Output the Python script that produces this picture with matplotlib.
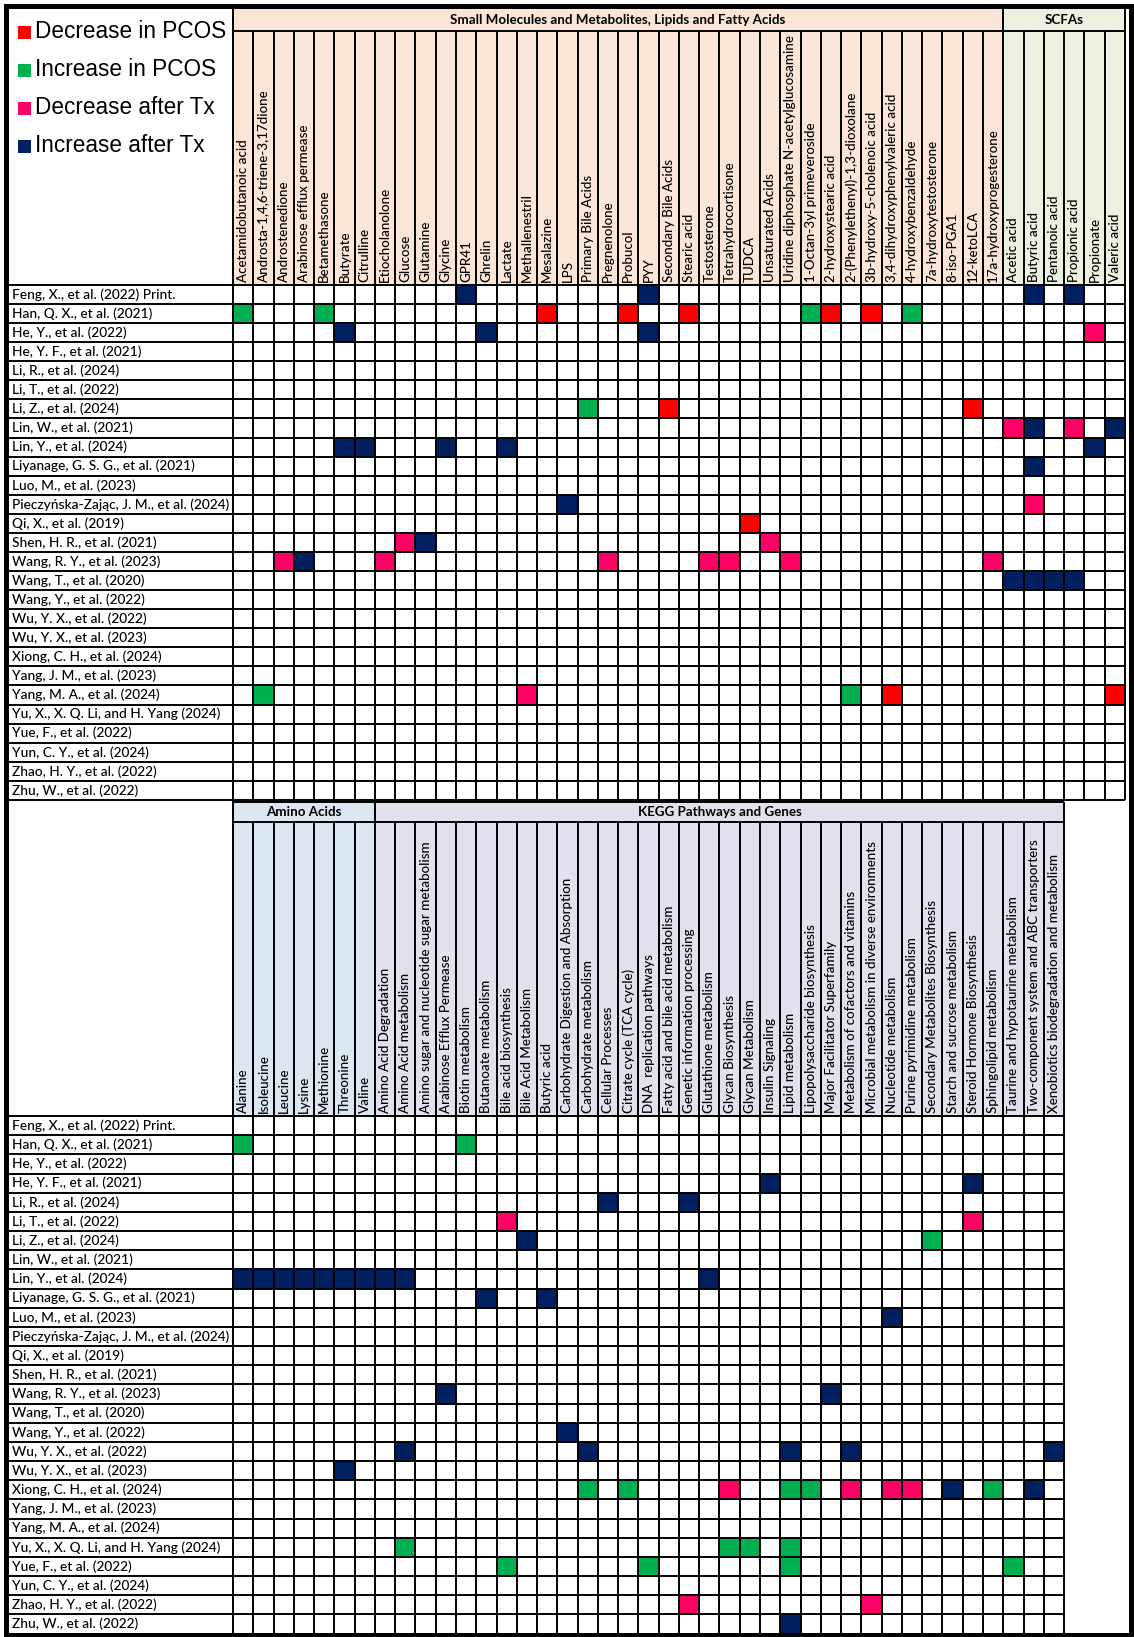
import matplotlib
matplotlib.use("Agg")
import matplotlib.pyplot as plt
from matplotlib.patches import Rectangle

plt.rcParams['font.family'] = ['Lato', 'DejaVu Sans']

studies = [
    "Feng, X., et al. (2022) Print.", "Han, Q. X., et al. (2021)", "He, Y., et al. (2022)",
    "He, Y. F., et al. (2021)", "Li, R., et al. (2024)", "Li, T., et al. (2022)",
    "Li, Z., et al. (2024)", "Lin, W., et al. (2021)", "Lin, Y., et al. (2024)",
    "Liyanage, G. S. G., et al. (2021)", "Luo, M., et al. (2023)",
    "Pieczyńska-Zając, J. M., et al. (2024)", "Qi, X., et al. (2019)", "Shen, H. R., et al. (2021)",
    "Wang, R. Y., et al. (2023)", "Wang, T., et al. (2020)", "Wang, Y., et al. (2022)",
    "Wu, Y. X., et al. (2022)", "Wu, Y. X., et al. (2023)", "Xiong, C. H., et al. (2024)",
    "Yang, J. M., et al. (2023)", "Yang, M. A., et al. (2024)", "Yu, X., X. Q. Li, and H. Yang (2024)",
    "Yue, F., et al. (2022)", "Yun, C. Y., et al. (2024)", "Zhao, H. Y., et al. (2022)",
    "Zhu, W., et al. (2022)",
]

small_molecules = [
    "Acetamidobutanoic acid", "Androsta-1,4,6-triene-3,17dione", "Androstenedione",
    "Arabinose efflux permease", "Betamethasone", "Butyrate", "Citrulline", "Etiocholanolone",
    "Glucose", "Glutamine", "Glycine", "GPR41", "Ghrelin", "Lactate", "Methallenestril",
    "Mesalazine", "LPS", "Primary Bile Acids", "Pregnenolone", "Probucol", "PYY",
    "Secondary Bile Acids", "Stearic acid", "Testosterone", "Tetrahydrocortisone", "TUDCA",
    "Unsaturated Acids", "Uridine diphosphate N-acetylglucosamine", "1-Octan-3yl primeveroside",
    "2-hydroxystearic acid", "2-(Phenylethenyl)-1,3-dioxolane", "3b-hydroxy-5-cholenoic acid",
    "3,4-dihydroxyphenylvaleric acid", "4-hydroxybenzaldehyde", "7a-hydroxytestosterone",
    "8-iso-PGA1", "12-ketoLCA", "17a-hydroxyprogesterone",
]
scfas = ["Acetic acid", "Butyric acid", "Pentanoic acid", "Propionic acid", "Propionate", "Valeric acid"]

amino_acids = ["Alanine", "Isoleucine", "Leucine", "Lysine", "Methionine", "Threonine", "Valine"]
kegg = [
    "Amino Acid Degradation", "Amino Acid metabolism", "Amino sugar and nucleotide sugar metabolism",
    "Arabinose Efflux Permease", "Biotin metabolism", "Butanoate metabolism", "Bile acid biosynthesis",
    "Bile Acid Metabolism", "Butyric acid", "Carbohydrate Digestion and Absorption",
    "Carbohydrate metabolism", "Cellular Processes", "Citrate cycle (TCA cycle)",
    "DNA  replication pathways", "Fatty acid and bile acid metabolism", "Genetic information processing",
    "Glutathione metabolism", "Glycan Biosynthesis", "Glycan Metabolism", "Insulin Signaling",
    "Lipid metabolism", "Lipopolysaccharide biosynthesis", "Major Facilitator Superfamily",
    "Metabolism of cofactors and vitamins", "Microbial metabolism in diverse environments",
    "Nucleotide metabolism", "Purine pyrimidine metabolism", "Secondary Metabolites Biosynthesis",
    "Starch and sucrose metabolism", "Steroid Hormone Biosynthesis", "Sphingolipid metabolism",
    "Taurine and hypotaurine metabolism", "Two-component system and ABC transporters",
    "Xenobiotics biodegradation and metabolism",
]

legend_labels = ["Decrease in PCOS", "Increase in PCOS", "Decrease after Tx", "Increase after Tx"]
legend_colors = ["#FF0000", "#00B050", "#FF0066", "#002060"]
DP, IP, DT, IT = 0, 1, 2, 3

top_marks = [
    ("Feng, X., et al. (2022) Print.", "GPR41", IT), ("Feng, X., et al. (2022) Print.", "PYY", IT),
    ("Feng, X., et al. (2022) Print.", "Butyric acid", IT), ("Feng, X., et al. (2022) Print.", "Propionic acid", IT),
    ("Han, Q. X., et al. (2021)", "Acetamidobutanoic acid", IP), ("Han, Q. X., et al. (2021)", "Betamethasone", IP),
    ("Han, Q. X., et al. (2021)", "Mesalazine", DP), ("Han, Q. X., et al. (2021)", "Probucol", DP),
    ("Han, Q. X., et al. (2021)", "Stearic acid", DP), ("Han, Q. X., et al. (2021)", "1-Octan-3yl primeveroside", IP),
    ("Han, Q. X., et al. (2021)", "2-hydroxystearic acid", DP), ("Han, Q. X., et al. (2021)", "3b-hydroxy-5-cholenoic acid", DP),
    ("Han, Q. X., et al. (2021)", "4-hydroxybenzaldehyde", IP),
    ("He, Y., et al. (2022)", "Butyrate", IT), ("He, Y., et al. (2022)", "Ghrelin", IT),
    ("He, Y., et al. (2022)", "PYY", IT), ("He, Y., et al. (2022)", "Propionate", DT),
    ("Li, Z., et al. (2024)", "Primary Bile Acids", IP), ("Li, Z., et al. (2024)", "Secondary Bile Acids", DP),
    ("Li, Z., et al. (2024)", "12-ketoLCA", DP),
    ("Lin, W., et al. (2021)", "Acetic acid", DT), ("Lin, W., et al. (2021)", "Butyric acid", IT),
    ("Lin, W., et al. (2021)", "Propionic acid", DT), ("Lin, W., et al. (2021)", "Valeric acid", IT),
    ("Lin, Y., et al. (2024)", "Butyrate", IT), ("Lin, Y., et al. (2024)", "Citrulline", IT),
    ("Lin, Y., et al. (2024)", "Glycine", IT), ("Lin, Y., et al. (2024)", "Lactate", IT),
    ("Lin, Y., et al. (2024)", "Propionate", IT),
    ("Liyanage, G. S. G., et al. (2021)", "Butyric acid", IT),
    ("Pieczyńska-Zając, J. M., et al. (2024)", "LPS", IT), ("Pieczyńska-Zając, J. M., et al. (2024)", "Butyric acid", DT),
    ("Qi, X., et al. (2019)", "TUDCA", DP),
    ("Shen, H. R., et al. (2021)", "Glucose", DT), ("Shen, H. R., et al. (2021)", "Glutamine", IT),
    ("Shen, H. R., et al. (2021)", "Unsaturated Acids", DT),
    ("Wang, R. Y., et al. (2023)", "Androstenedione", DT), ("Wang, R. Y., et al. (2023)", "Arabinose efflux permease", IT),
    ("Wang, R. Y., et al. (2023)", "Etiocholanolone", DT), ("Wang, R. Y., et al. (2023)", "Pregnenolone", DT),
    ("Wang, R. Y., et al. (2023)", "Testosterone", DT), ("Wang, R. Y., et al. (2023)", "Tetrahydrocortisone", DT),
    ("Wang, R. Y., et al. (2023)", "Uridine diphosphate N-acetylglucosamine", DT),
    ("Wang, R. Y., et al. (2023)", "17a-hydroxyprogesterone", DT),
    ("Wang, T., et al. (2020)", "Acetic acid", IT), ("Wang, T., et al. (2020)", "Butyric acid", IT),
    ("Wang, T., et al. (2020)", "Pentanoic acid", IT), ("Wang, T., et al. (2020)", "Propionic acid", IT),
    ("Yang, M. A., et al. (2024)", "Androsta-1,4,6-triene-3,17dione", IP),
    ("Yang, M. A., et al. (2024)", "Methallenestril", DT),
    ("Yang, M. A., et al. (2024)", "2-(Phenylethenyl)-1,3-dioxolane", IP),
    ("Yang, M. A., et al. (2024)", "3,4-dihydroxyphenylvaleric acid", DP),
    ("Yang, M. A., et al. (2024)", "Valeric acid", DP),
]

bottom_marks = [
    ("Han, Q. X., et al. (2021)", "Alanine", IP), ("Han, Q. X., et al. (2021)", "Biotin metabolism", IP),
    ("He, Y. F., et al. (2021)", "Insulin Signaling", IT), ("He, Y. F., et al. (2021)", "Steroid Hormone Biosynthesis", IT),
    ("Li, R., et al. (2024)", "Cellular Processes", IT), ("Li, R., et al. (2024)", "Genetic information processing", IT),
    ("Li, T., et al. (2022)", "Bile acid biosynthesis", DT), ("Li, T., et al. (2022)", "Steroid Hormone Biosynthesis", DT),
    ("Li, Z., et al. (2024)", "Bile Acid Metabolism", IT), ("Li, Z., et al. (2024)", "Secondary Metabolites Biosynthesis", IP),
    ("Lin, Y., et al. (2024)", "Alanine", IT), ("Lin, Y., et al. (2024)", "Isoleucine", IT),
    ("Lin, Y., et al. (2024)", "Leucine", IT), ("Lin, Y., et al. (2024)", "Lysine", IT),
    ("Lin, Y., et al. (2024)", "Methionine", IT), ("Lin, Y., et al. (2024)", "Threonine", IT),
    ("Lin, Y., et al. (2024)", "Valine", IT), ("Lin, Y., et al. (2024)", "Amino Acid Degradation", IT),
    ("Lin, Y., et al. (2024)", "Amino Acid metabolism", IT), ("Lin, Y., et al. (2024)", "Glutathione metabolism", IT),
    ("Liyanage, G. S. G., et al. (2021)", "Butanoate metabolism", IT),
    ("Liyanage, G. S. G., et al. (2021)", "Butyric acid", IT),
    ("Luo, M., et al. (2023)", "Nucleotide metabolism", IT),
    ("Wang, R. Y., et al. (2023)", "Arabinose Efflux Permease", IT),
    ("Wang, R. Y., et al. (2023)", "Major Facilitator Superfamily", IT),
    ("Wang, Y., et al. (2022)", "Carbohydrate Digestion and Absorption", IT),
    ("Wu, Y. X., et al. (2022)", "Amino Acid metabolism", IT), ("Wu, Y. X., et al. (2022)", "Carbohydrate metabolism", IT),
    ("Wu, Y. X., et al. (2022)", "Lipid metabolism", IT),
    ("Wu, Y. X., et al. (2022)", "Metabolism of cofactors and vitamins", IT),
    ("Wu, Y. X., et al. (2022)", "Xenobiotics biodegradation and metabolism", IT),
    ("Wu, Y. X., et al. (2023)", "Threonine", IT),
    ("Xiong, C. H., et al. (2024)", "Carbohydrate metabolism", IP),
    ("Xiong, C. H., et al. (2024)", "Citrate cycle (TCA cycle)", IP),
    ("Xiong, C. H., et al. (2024)", "Glycan Biosynthesis", DT),
    ("Xiong, C. H., et al. (2024)", "Lipid metabolism", IP),
    ("Xiong, C. H., et al. (2024)", "Lipopolysaccharide biosynthesis", IP),
    ("Xiong, C. H., et al. (2024)", "Metabolism of cofactors and vitamins", DT),
    ("Xiong, C. H., et al. (2024)", "Nucleotide metabolism", DT),
    ("Xiong, C. H., et al. (2024)", "Purine pyrimidine metabolism", DT),
    ("Xiong, C. H., et al. (2024)", "Starch and sucrose metabolism", IT),
    ("Xiong, C. H., et al. (2024)", "Sphingolipid metabolism", IP),
    ("Xiong, C. H., et al. (2024)", "Two-component system and ABC transporters", IT),
    ("Yu, X., X. Q. Li, and H. Yang (2024)", "Amino Acid metabolism", IP),
    ("Yu, X., X. Q. Li, and H. Yang (2024)", "Glycan Biosynthesis", IP),
    ("Yu, X., X. Q. Li, and H. Yang (2024)", "Glycan Metabolism", IP),
    ("Yu, X., X. Q. Li, and H. Yang (2024)", "Lipid metabolism", IP),
    ("Yue, F., et al. (2022)", "Bile acid biosynthesis", IP), ("Yue, F., et al. (2022)", "DNA  replication pathways", IP),
    ("Yue, F., et al. (2022)", "Lipid metabolism", IP),
    ("Yue, F., et al. (2022)", "Taurine and hypotaurine metabolism", IP),
    ("Zhao, H. Y., et al. (2022)", "Genetic information processing", DT),
    ("Zhao, H. Y., et al. (2022)", "Microbial metabolism in diverse environments", DT),
    ("Zhu, W., et al. (2022)", "Lipid metabolism", IT),
]

# layout in pixels (figure is 1134 x 1637)
W, H = 1134, 1637
LX0, LX1 = 7, 233          # study label column
COL_W = 20.27
LW = 1.4

fig = plt.figure(figsize=(W / 100, H / 100), dpi=100)
ax = fig.add_axes([0, 0, 1, 1])
ax.set_xlim(0, W)
ax.set_ylim(H, 0)
ax.axis('off')


def draw_section(groups, marks, band_top, band_bot, head_bot, row_h):
    columns = [c for _, labels, _ in groups for c in labels]
    col_idx = {c: i for i, c in enumerate(columns)}
    ncol = len(columns)
    x_end = LX1 + ncol * COL_W
    y_end = head_bot + len(studies) * row_h

    # category bands and header cells
    start = 0
    for title, labels, color in groups:
        x0 = LX1 + start * COL_W
        x1 = x0 + len(labels) * COL_W
        ax.add_patch(Rectangle((x0, band_top), x1 - x0, head_bot - band_top, facecolor=color, edgecolor='none'))
        ax.text((x0 + x1) / 2, (band_top + band_bot) / 2, title, ha='center', va='center',
                fontsize=9.6, fontweight='bold')
        ax.vlines([x0, x1], band_top, band_bot, color='black', lw=LW)
        start += len(labels)
    ax.hlines([band_top, band_bot], LX1, x_end, color='black', lw=LW)

    for i, c in enumerate(columns):
        ax.text(LX1 + (i + 0.5) * COL_W, head_bot - 3, c, rotation=90, ha='center', va='bottom',
                fontsize=9.6, fontweight='medium')

    # coloured cells
    for study, feat, eff in marks:
        r = studies.index(study)
        ax.add_patch(Rectangle((LX1 + col_idx[feat] * COL_W, head_bot + r * row_h), COL_W, row_h,
                               facecolor=legend_colors[eff], edgecolor='none'))

    for r, s in enumerate(studies):
        ax.text(LX0 + 5, head_bot + (r + 0.5) * row_h, s, ha='left', va='center',
                fontsize=9.9, fontweight='medium')

    ax.hlines([head_bot + r * row_h for r in range(len(studies) + 1)], LX0, x_end, color='black', lw=LW)
    ax.vlines([LX1 + i * COL_W for i in range(ncol + 1)], band_bot, y_end, color='black', lw=LW)


draw_section([("Small Molecules and Metabolites, Lipids and Fatty Acids", small_molecules, "#FBE5D6"),
              ("SCFAs", scfas, "#EBF1DE")],
             top_marks, 8, 31, 285, 19.07)
draw_section([("Amino Acids", amino_acids, "#DCE6F1"),
              ("KEGG Pathways and Genes", kegg, "#E4DFEC")],
             bottom_marks, 801.5, 822, 1116, 19.17)

ax.vlines(LX1, 6, 1635, color='black', lw=LW)

# legend in the top-left corner
for k, (lab, col) in enumerate(zip(legend_labels, legend_colors)):
    y = 32 + k * 38
    ax.add_patch(Rectangle((18, y - 6.5), 13, 13, facecolor=col, edgecolor='none'))
    ax.text(35, y, lab, ha='left', va='center', fontsize=16.3, family=['Liberation Sans', 'DejaVu Sans'])

# outer frame
ax.add_patch(Rectangle((5.5, 5.5), 1125, 1629, facecolor='none', edgecolor='black', lw=3.6))

fig.savefig("out.png", dpi=100)
